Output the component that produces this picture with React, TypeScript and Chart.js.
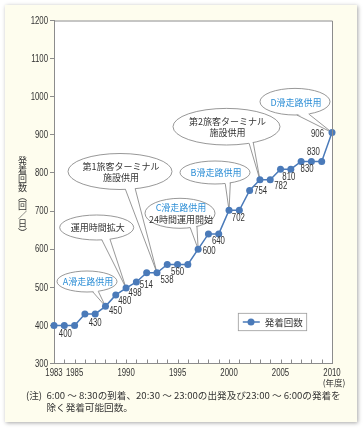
import React, { useEffect, useRef } from "react";
import { Chart, registerables } from "chart.js";

Chart.register(...registerables);

// ---------- data ----------
const years = [
  1983, 1984, 1985, 1986, 1987, 1988, 1989, 1990, 1991, 1992, 1993, 1994, 1995, 1996,
  1997, 1998, 1999, 2000, 2001, 2002, 2003, 2004, 2005, 2006, 2007, 2008, 2009, 2010,
];
const flights = [
  400, 400, 400, 430, 430, 450, 480, 498, 514, 538, 538, 560, 560, 560,
  600, 640, 640, 702, 702, 754, 782, 782, 810, 810, 830, 830, 830, 906,
];
const shownYears = [1983, 1985, 1990, 1995, 2000, 2005, 2010];
const yearUnit = "(年度)";
const seriesName = "発着回数";
const yTitle = "発着回数（回／日）";
const yMin = 300;
const yMax = 1200;
const yStep = 100;
const noteHead = "(注)";
const noteLines = [
  "6:00 ～ 8:30の到着、20:30 ～ 23:00の出発及び23:00 ～ 6:00の発着を",
  "除く発着可能回数。",
];

// point indices that carry a value label
const labelledIdx = [1, 4, 5, 6, 7, 8, 10, 12, 14, 15, 18, 19, 21, 23, 24, 25, 27];
// callout texts and the point index they point to
const calloutTexts = [
  ["A滑走路供用"],
  ["運用時間拡大"],
  ["第1旅客ターミナル", "施設供用"],
  ["C滑走路供用", "24時間運用開始"],
  ["B滑走路供用"],
  ["第2旅客ターミナル", "施設供用"],
  ["D滑走路供用"],
];
const calloutIdx = [5, 7, 10, 14, 17, 20, 27];
const calloutBlueFirst = [true, false, false, true, true, false, true];

// ---------- layout / style (not data) ----------
const labelOffsets: Record<number, [number, number]> = {
  1: [1, 9], 4: [0, 9], 5: [10, 4.5], 6: [9, 6], 7: [9, 5], 8: [10, 3], 10: [10, 7],
  12: [0, 8], 14: [11, 2], 15: [10, 7], 18: [-1, 7.5], 19: [11, 1], 21: [10.5, 6.5],
  23: [-2, 8], 24: [6, 8], 25: [2, -9.5], 27: [-14.5, 2],
};
// cx, cy, rx, ry, tail base angles (deg)
const calloutGeom = [
  [87, 281.5, 30, 10.5, 68, 79],
  [96.7, 227.5, 37, 12.5, 69, 82],
  [120, 171.5, 52, 18, 73, 84],
  [180, 213.3, 35, 15, 61, 73],
  [215, 172.5, 35, 11.5, 64, 73],
  [226.5, 126.7, 53.5, 18.3, 60, 65],
  [295, 101.7, 35, 13.3, 67, 87],
];

const LINE = "#4a7ab9";
const BLUE_TXT = "#2e8fd6";
const TXT = "#333333";
const AXIS = "#8c8c8c";
const NUM_FONT = '10px "Liberation Sans", Arial, sans-serif';
const NUM_SX = 0.78;
const JP_FONT = '"Noto Sans CJK JP", "Noto Sans", sans-serif';

function narrowText(ctx: CanvasRenderingContext2D, text: string, x: number, y: number, align: CanvasTextAlign) {
  ctx.save();
  ctx.translate(x, y);
  ctx.scale(NUM_SX, 1);
  ctx.textAlign = align;
  ctx.fillText(text, 0, 0);
  ctx.restore();
}

const decorPlugin = {
  id: "decor",
  beforeDraw(chart: any) {
    const { ctx, chartArea: a } = chart;
    ctx.save();
    ctx.fillStyle = "#ffffff";
    ctx.fillRect(a.left, a.top, a.right - a.left, a.bottom - a.top);
    ctx.restore();
  },
  beforeDatasetsDraw(chart: any) {
    const { ctx } = chart;
    const meta = chart.getDatasetMeta(0);
    ctx.save();
    calloutGeom.forEach((g, k) => {
      const [cx, cy, rx, ry, a1, a2] = g;
      const p = meta.data[calloutIdx[k]];
      const tip = { x: p.x, y: p.y };
      const pt = (deg: number, inset: number) => ({
        x: cx + (rx - inset) * Math.cos((deg * Math.PI) / 180),
        y: cy + (ry - inset) * Math.sin((deg * Math.PI) / 180),
      });
      ctx.lineWidth = 0.8;
      ctx.strokeStyle = "#7d7d7d";
      ctx.fillStyle = "#ffffff";
      ctx.beginPath();
      ctx.ellipse(cx, cy, rx, ry, 0, 0, Math.PI * 2);
      ctx.fill();
      ctx.stroke();
      const i1 = pt(a1, 1.5), i2 = pt(a2, 1.5);
      ctx.beginPath();
      ctx.moveTo(i1.x, i1.y);
      ctx.lineTo(tip.x, tip.y);
      ctx.lineTo(i2.x, i2.y);
      ctx.closePath();
      ctx.fill();
      const b1 = pt(a1, 0), b2 = pt(a2, 0);
      ctx.beginPath();
      ctx.moveTo(b1.x, b1.y);
      ctx.lineTo(tip.x, tip.y);
      ctx.lineTo(b2.x, b2.y);
      ctx.stroke();
      const lines = calloutTexts[k];
      ctx.font = `9px ${JP_FONT}`;
      ctx.textAlign = "center";
      ctx.textBaseline = "middle";
      const lh = 11.5;
      lines.forEach((t, j) => {
        ctx.fillStyle = j === 0 && calloutBlueFirst[k] ? BLUE_TXT : TXT;
        const y = cy + (j - (lines.length - 1) / 2) * lh + 0.5;
        ctx.fillText(t, cx + 1, y);
      });
    });
    ctx.restore();
  },
  afterDraw(chart: any) {
    const { ctx, chartArea: a, scales } = chart;
    const meta = chart.getDatasetMeta(0);
    ctx.save();
    // top/right frame
    ctx.strokeStyle = AXIS;
    ctx.lineWidth = 1;
    ctx.beginPath();
    ctx.moveTo(a.left, a.top + 0.5);
    ctx.lineTo(a.right + 0.5, a.top + 0.5);
    ctx.lineTo(a.right + 0.5, a.bottom);
    ctx.stroke();
    // inward x ticks
    ctx.beginPath();
    years.forEach((_, i) => {
      const x = Math.round(scales.x.getPixelForValue(i)) + 0.5;
      ctx.moveTo(x, a.bottom);
      ctx.lineTo(x, a.bottom - 4);
    });
    ctx.stroke();
    ctx.fillStyle = TXT;
    ctx.textBaseline = "middle";
    // y tick labels
    ctx.font = NUM_FONT;
    scales.y.ticks.forEach((t: any) => {
      const y = scales.y.getPixelForValue(t.value);
      narrowText(ctx, String(t.value), a.left - 6, y + 0.5, "right");
    });
    // x tick labels
    years.forEach((yr, i) => {
      if (!shownYears.includes(yr)) return;
      const x = scales.x.getPixelForValue(i);
      narrowText(ctx, String(yr), x, a.bottom + 9.5, "center");
    });
    // unit under last year
    const xl = scales.x.getPixelForValue(years.length - 1);
    ctx.font = `8.5px ${JP_FONT}`;
    ctx.textAlign = "center";
    ctx.fillText(yearUnit, xl + 2, a.bottom + 19.5);
    // value labels
    ctx.font = NUM_FONT;
    labelledIdx.forEach((i) => {
      const p = meta.data[i];
      const [dx, dy] = labelOffsets[i];
      narrowText(ctx, String(flights[i]), p.x + dx, p.y + dy, "center");
    });
    // legend
    const lx2 = a.right - 25.3, ly2 = a.bottom - 32.8;
    const lx1 = lx2 - 68.4, ly1 = ly2 - 17.4;
    ctx.fillStyle = "#ffffff";
    ctx.fillRect(lx1, ly1, lx2 - lx1, ly2 - ly1);
    ctx.strokeStyle = "#9a9a9a";
    ctx.lineWidth = 0.8;
    ctx.strokeRect(lx1, ly1, lx2 - lx1, ly2 - ly1);
    const my = (ly1 + ly2) / 2;
    ctx.strokeStyle = LINE;
    ctx.lineWidth = 1.5;
    ctx.beginPath();
    ctx.moveTo(lx1 + 4.5, my);
    ctx.lineTo(lx1 + 21.5, my);
    ctx.stroke();
    ctx.fillStyle = LINE;
    ctx.beginPath();
    ctx.arc(lx1 + 12.7, my, 3.5, 0, Math.PI * 2);
    ctx.fill();
    ctx.fillStyle = TXT;
    ctx.font = `9.5px ${JP_FONT}`;
    ctx.textAlign = "left";
    ctx.fillText(seriesName, lx1 + 26.5, my + 0.5);
    ctx.restore();
  },
};

export default function App() {
  const ref = useRef<HTMLCanvasElement | null>(null);

  useEffect(() => {
    if (!ref.current) return;
    const chart = new Chart(ref.current, {
      type: "line",
      data: {
        labels: years.map(String),
        datasets: [
          {
            label: seriesName,
            data: flights,
            borderColor: LINE,
            backgroundColor: LINE,
            borderWidth: 1.5,
            pointRadius: 3.5,
            pointBorderWidth: 0,
            pointBackgroundColor: LINE,
            tension: 0,
          },
        ],
      },
      options: {
        responsive: false,
        animation: false,
        devicePixelRatio: 1,
        layout: { padding: { left: 0, right: 32, top: 20.5, bottom: 0 } },
        plugins: { legend: { display: false }, tooltip: { enabled: false } },
        scales: {
          x: {
            type: "category",
            offset: false,
            grid: { display: true, drawOnChartArea: false, drawTicks: false },
            border: { display: true, color: AXIS, width: 1 },
            ticks: { display: false, autoSkip: false },
            afterFit: (s: any) => {
              s.height = 64.5;
            },
          },
          y: {
            min: yMin,
            max: yMax,
            grid: { display: true, drawOnChartArea: false, drawTicks: true, tickLength: 4, color: AXIS },
            border: { display: true, color: AXIS, width: 1 },
            ticks: { display: false, stepSize: yStep },
            afterFit: (s: any) => {
              s.width = 54;
            },
          },
        },
      } as any,
      plugins: [decorPlugin],
    });
    return () => chart.destroy();
  }, []);

  return (
    <div style={{ position: "absolute", left: 0, top: 0, width: 364, height: 428, overflow: "hidden", background: "#ffffff" }}>
      <div
        style={{
          position: "absolute",
          left: 5,
          top: 5,
          width: 352,
          height: 417,
          background: "#fefdee",
          boxShadow: "1px 1px 4px rgba(0,0,0,0.35)",
        }}
      />
      <canvas ref={ref} width={364} height={428} style={{ position: "absolute", left: 0, top: 0, width: 364, height: 428 }} />
      <div
        style={{
          position: "absolute",
          left: 17,
          top: 156,
          writingMode: "vertical-rl",
          fontFamily: JP_FONT,
          fontSize: 9,
          lineHeight: "10px",
          color: TXT,
        }}
      >
        {yTitle}
      </div>
      <div
        style={{
          position: "absolute",
          left: 26,
          top: 389,
          fontFamily: JP_FONT,
          fontSize: 9.6,
          lineHeight: "12px",
          color: TXT,
          whiteSpace: "nowrap",
        }}
      >
        {noteHead}
      </div>
      <div
        style={{
          position: "absolute",
          left: 46.5,
          top: 389,
          fontFamily: JP_FONT,
          fontSize: 9.6,
          lineHeight: "12px",
          color: TXT,
          whiteSpace: "nowrap",
        }}
      >
        {noteLines.map((l, i) => (
          <div key={i}>{l}</div>
        ))}
      </div>
    </div>
  );
}
